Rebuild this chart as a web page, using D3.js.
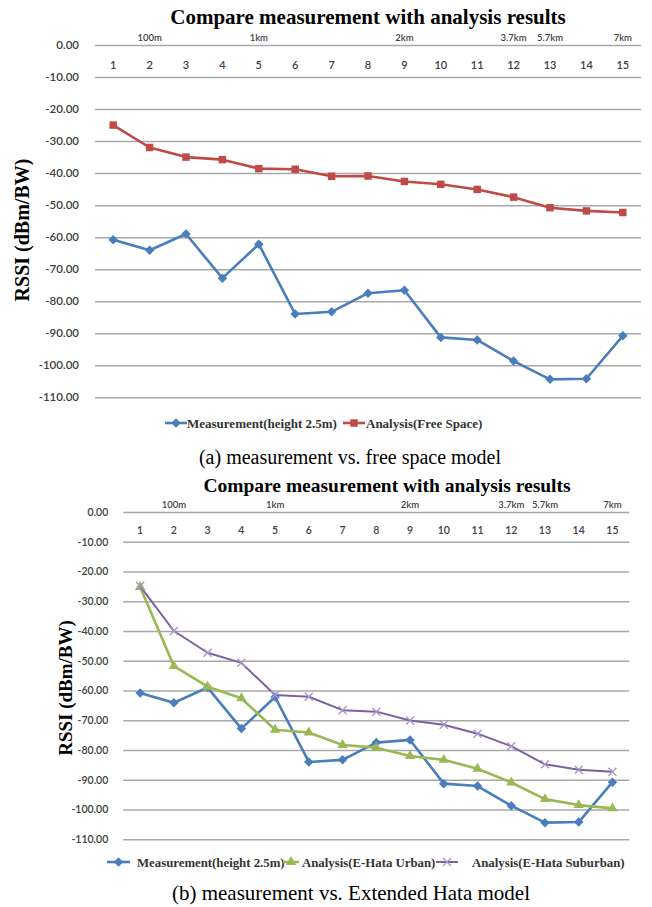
<!DOCTYPE html>
<html>
<head>
<meta charset="utf-8">
<script src="https://cdn.jsdelivr.net/npm/d3@7"></script>
<style>
  body { margin: 0; background: #ffffff; }
  svg { display: block; }
</style>
</head>
<body>
<svg id="fig" width="652" height="907"></svg>
<script>
// ---- data ----
const categories = ["1", "2", "3", "4", "5", "6", "7", "8", "9", "10", "11", "12", "13", "14", "15"];
const distanceLabels = ["", "100m", "", "", "1km", "", "", "", "2km", "", "", "3.7km", "5.7km", "", "7km"];
const yTicks = [0, -10, -20, -30, -40, -50, -60, -70, -80, -90, -100, -110];

// RSSI in dBm/BW at each measurement point
const measurement  = [-60.8, -64.1, -59.0, -72.8, -62.2, -84.0, -83.3, -77.5, -76.6, -91.3, -92.1, -98.7, -104.4, -104.2, -90.8];
const freeSpace    = [-25.0, -32.0, -35.0, -35.8, -38.6, -38.8, -41.0, -40.9, -42.6, -43.5, -45.1, -47.5, -50.8, -51.8, -52.3];
const hataUrban    = [-25.2, -51.8, -58.7, -62.6, -73.2, -74.1, -78.3, -79.2, -82.0, -83.3, -86.3, -90.9, -96.5, -98.5, -99.6];
const hataSuburban = [-24.9, -40.0, -47.3, -50.7, -61.5, -62.1, -66.6, -67.1, -70.1, -71.5, -74.5, -78.7, -84.8, -86.6, -87.3];

const chartTitle = "Compare measurement with analysis results";
const yAxisTitle = "RSSI (dBm/BW)";
const captionA = "(a) measurement vs. free space model";
const captionB = "(b) measurement vs. Extended Hata model";

// ---- marker shapes ----
const diamond = { draw(ctx, size) { const r = Math.sqrt(size) / 2; ctx.moveTo(0, -r); ctx.lineTo(r, 0); ctx.lineTo(0, r); ctx.lineTo(-r, 0); ctx.closePath(); } };
const cross = { draw(ctx, size) { const r = Math.sqrt(size) / 2; ctx.moveTo(-r, -r); ctx.lineTo(r, r); ctx.moveTo(r, -r); ctx.lineTo(-r, r); } };

const seriesStyles = {
  measurement:  { color: "#4a7ebb", width: 2.6, marker: diamond, size: 90, fill: "#4a7ebb", stroke: "none" },
  freeSpace:    { color: "#be4b48", width: 2.6, marker: d3.symbolSquare, size: 56, fill: "#be4b48", stroke: "none" },
  hataUrban:    { color: "#98b954", width: 2.6, marker: d3.symbolTriangle, size: 46, fill: "#98b954", stroke: "none" },
  hataSuburban: { color: "#7d60a0", width: 2.0, marker: cross, size: 64, fill: "none", stroke: "#a996c9" }
};

const svg = d3.select("#fig");
const serif = "'Liberation Serif', 'Times New Roman', serif";
const sans = "Lato, 'Open Sans', sans-serif";

function drawPanel(p) {
  const g = svg.append("g");
  const x = d3.scaleBand().domain(categories).range([p.x0, p.x1]);
  const y = d3.scaleLinear().domain([-110, 0]).range([p.yBottom, p.yTop]);
  const cx = i => x(categories[i]) + x.bandwidth() / 2;

  // horizontal gridlines + value labels
  const yAxis = d3.axisLeft(y)
    .tickValues(yTicks)
    .tickFormat(d => d.toFixed(2))
    .tickSizeInner(-(p.x1 - p.x0))
    .tickSizeOuter(0)
    .tickPadding(p.labelGap);
  const ya = g.append("g").attr("transform", `translate(${p.x0},0)`).call(yAxis);
  ya.select(".domain").remove();
  ya.selectAll(".tick line").attr("stroke", "#a8a8a8").attr("stroke-width", 1.5);
  ya.selectAll(".tick text")
    .attr("fill", "#404040")
    .style("font-family", sans)
    .style("font-size", p.tickFont + "px")
    .style("font-weight", 600);

  // category numbers (axis sits at the top of the plot)
  const xAxis = d3.axisBottom(x).tickSize(0).tickPadding(0);
  const xa = g.append("g").attr("transform", `translate(0,${p.catY})`).call(xAxis);
  xa.select(".domain").remove();
  xa.selectAll(".tick text")
    .attr("y", 0).attr("dy", 0)
    .attr("fill", "#404040")
    .style("font-family", sans)
    .style("font-size", p.catFont + "px")
    .style("font-weight", 600);

  // distance annotations above the 0 line
  const dAxis = d3.axisTop(x).tickSize(0).tickPadding(0)
    .tickFormat((d, i) => distanceLabels[i]);
  const da = g.append("g").attr("transform", `translate(0,${p.distY})`).call(dAxis);
  da.select(".domain").remove();
  da.selectAll(".tick text")
    .attr("y", 0).attr("dy", 0)
    .attr("fill", "#404040")
    .style("font-family", sans)
    .style("font-size", p.distFont + "px")
    .style("font-weight", 600);

  // series lines and markers
  const line = d3.line().x((d, i) => cx(i)).y(d => y(d));
  p.series.forEach(s => {
    const st = seriesStyles[s.key];
    g.append("path").datum(s.values)
      .attr("d", line)
      .attr("fill", "none")
      .attr("stroke", st.color)
      .attr("stroke-width", st.width)
      .attr("stroke-linejoin", "round");
    g.append("g").selectAll("path").data(s.values).join("path")
      .attr("transform", (d, i) => `translate(${cx(i)},${y(d)})`)
      .attr("d", d3.symbol().type(st.marker).size(st.size))
      .attr("fill", st.fill)
      .attr("stroke", st.stroke)
      .attr("stroke-width", 1.4);
  });

  // chart title
  g.append("text")
    .attr("x", p.titleX).attr("y", p.titleY)
    .attr("text-anchor", "middle")
    .style("font-family", serif)
    .style("font-weight", "bold")
    .style("font-size", p.titleFont + "px")
    .text(chartTitle);

  // vertical axis title
  g.append("text")
    .attr("transform", `translate(${p.yTitleX},${p.yTitleY}) rotate(-90)`)
    .attr("text-anchor", "middle")
    .style("font-family", serif)
    .style("font-weight", "bold")
    .style("font-size", p.yTitleFont + "px")
    .text(yAxisTitle);

  // legend
  p.legend.forEach(item => {
    const st = seriesStyles[item.key];
    g.append("line")
      .attr("x1", item.lineX).attr("x2", item.lineX + item.lineLen)
      .attr("y1", p.legendY).attr("y2", p.legendY)
      .attr("stroke", st.color).attr("stroke-width", st.width);
    g.append("path")
      .attr("transform", `translate(${item.lineX + item.lineLen / 2},${p.legendY})`)
      .attr("d", d3.symbol().type(st.marker).size(st.size))
      .attr("fill", st.fill).attr("stroke", st.stroke).attr("stroke-width", 1.4);
    g.append("text")
      .attr("x", item.textX).attr("y", p.legendY + 4.5)
      .attr("fill", "#333333")
      .style("font-family", serif)
      .style("font-weight", "bold")
      .style("font-size", p.legendFont + "px")
      .text(item.label);
  });

  // caption
  g.append("text")
    .attr("x", p.captionX).attr("y", p.captionY)
    .attr("text-anchor", "middle")
    .style("font-family", serif)
    .style("font-size", p.captionFont + "px")
    .text(p.caption);
}

drawPanel({
  x0: 95, x1: 641, yTop: 45, yBottom: 397.3,
  labelGap: 16, tickFont: 11.5, catY: 68.5, catFont: 11, distY: 41, distFont: 9.5,
  titleX: 368, titleY: 24, titleFont: 21,
  yTitleX: 29, yTitleY: 230, yTitleFont: 20,
  legendY: 423, legendFont: 13,
  legend: [
    { key: "measurement", label: "Measurement(height 2.5m)", lineX: 165, lineLen: 22, textX: 187 },
    { key: "freeSpace", label: "Analysis(Free Space)", lineX: 343, lineLen: 22, textX: 366 }
  ],
  captionX: 350, captionY: 464, captionFont: 20, caption: captionA,
  series: [
    { key: "measurement", values: measurement },
    { key: "freeSpace", values: freeSpace }
  ]
});

drawPanel({
  x0: 123.3, x1: 629.3, yTop: 512, yBottom: 839.3,
  labelGap: 15, tickFont: 10.5, catY: 533.5, catFont: 10.5, distY: 508.3, distFont: 9.5,
  titleX: 387, titleY: 492, titleFont: 19.5,
  yTitleX: 72, yTitleY: 688, yTitleFont: 19,
  legendY: 862, legendFont: 12.8,
  legend: [
    { key: "measurement", label: "Measurement(height 2.5m)", lineX: 107, lineLen: 23, textX: 137 },
    { key: "hataUrban", label: "Analysis(E-Hata Urban)", lineX: 283, lineLen: 16, textX: 302 },
    { key: "hataSuburban", label: "Analysis(E-Hata Suburban)", lineX: 436, lineLen: 22, textX: 472 }
  ],
  captionX: 351, captionY: 900, captionFont: 21, caption: captionB,
  series: [
    { key: "measurement", values: measurement },
    { key: "hataUrban", values: hataUrban },
    { key: "hataSuburban", values: hataSuburban }
  ]
});
</script>
</body>
</html>
